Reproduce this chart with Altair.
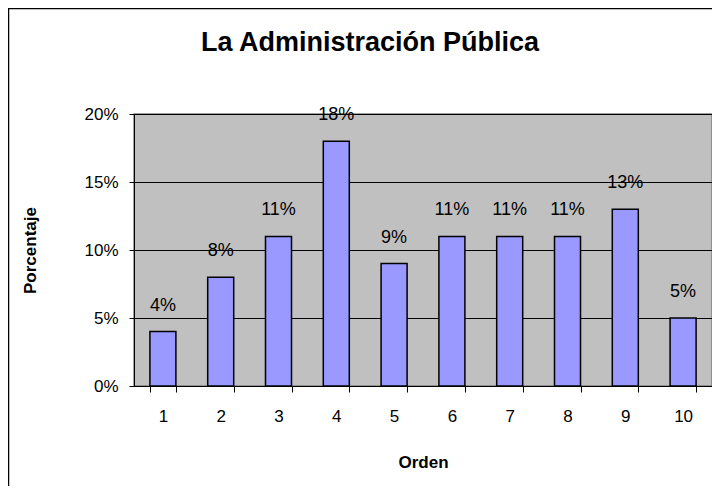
import altair as alt
import pandas as pd

orden = ["1", "2", "3", "4", "5", "6", "7", "8", "9", "10"]
porcentaje = [0.04, 0.08, 0.11, 0.18, 0.09, 0.11, 0.11, 0.11, 0.13, 0.05]
etiquetas = ["4%", "8%", "11%", "18%", "9%", "11%", "11%", "11%", "13%", "5%"]
y_ticks = [0, 0.05, 0.10, 0.15, 0.20]

df = pd.DataFrame({"Orden": orden, "Porcentaje": porcentaje, "Etiqueta": etiquetas})

FONT = "Liberation Sans"
W, H = 578, 272

x = alt.X(
    "Orden:N",
    sort=orden,
    scale=alt.Scale(paddingInner=0.55, paddingOuter=0.275),
    axis=alt.Axis(
        title="Orden",
        labelAngle=0,
        tickBand="extent",
        labelFont=FONT,
        labelFontSize=17,
        labelColor="black",
        labelPadding=16,
        titleFont=FONT,
        titleFontSize=17,
        titleFontWeight="bold",
        titleColor="black",
        titleY=76,
        titleBaseline="middle",
        domainColor="black",
        tickColor="black",
        tickSize=6,
        grid=False,
    ),
)

y = alt.Y(
    "Porcentaje:Q",
    scale=alt.Scale(domain=[0, 0.2], nice=False),
    axis=alt.Axis(
        title="Porcentaje",
        values=y_ticks,
        format=".0%",
        labelFont=FONT,
        labelFontSize=17,
        labelColor="black",
        labelPadding=11,
        titleFont=FONT,
        titleFontSize=17,
        titleFontWeight="bold",
        titleColor="black",
        titleX=-104,
        titleY=H / 2,
        titleBaseline="middle",
        titleAngle=270,
        domainColor="black",
        tickColor="black",
        tickSize=5,
        grid=True,
        gridColor="black",
        gridOpacity=1,
        gridWidth=1,
    ),
)

border = alt.Chart(df).mark_rect(fill="transparent", stroke="black", strokeWidth=1.5).encode(
    x=alt.value(-125.5), x2=alt.value(W + 40), y=alt.value(-105.5), y2=alt.value(H + 200)
)

bars = alt.Chart(df).mark_bar(fill="#9999FF", stroke="black", strokeWidth=1.5).encode(x=x, y=y)

text = alt.Chart(df).mark_text(
    font=FONT, fontSize=18, color="black", dy=-26, baseline="middle"
).encode(x=x, y=y, text="Etiqueta:N")

chart = (
    alt.layer(bars, text, border.transform_filter(alt.datum.Orden == "1"))
    .properties(
        width=W,
        height=H,
        background="white",
        autosize=alt.AutoSizeParams(type="none"),
        padding={"left": 126, "top": 106, "right": 0, "bottom": 100},
        title=alt.TitleParams(
            "La Administración Pública",
            font=FONT,
            fontSize=27,
            fontWeight="bold",
            color="black",
            anchor="middle",
            dx=-53,
            dy=49,
            offset=0,
        ),
    )
    .configure_view(fill="#C0C0C0", stroke="#808080", strokeWidth=1.5)
)

chart.save("out.html", embed_options={"renderer": "svg", "actions": False})
